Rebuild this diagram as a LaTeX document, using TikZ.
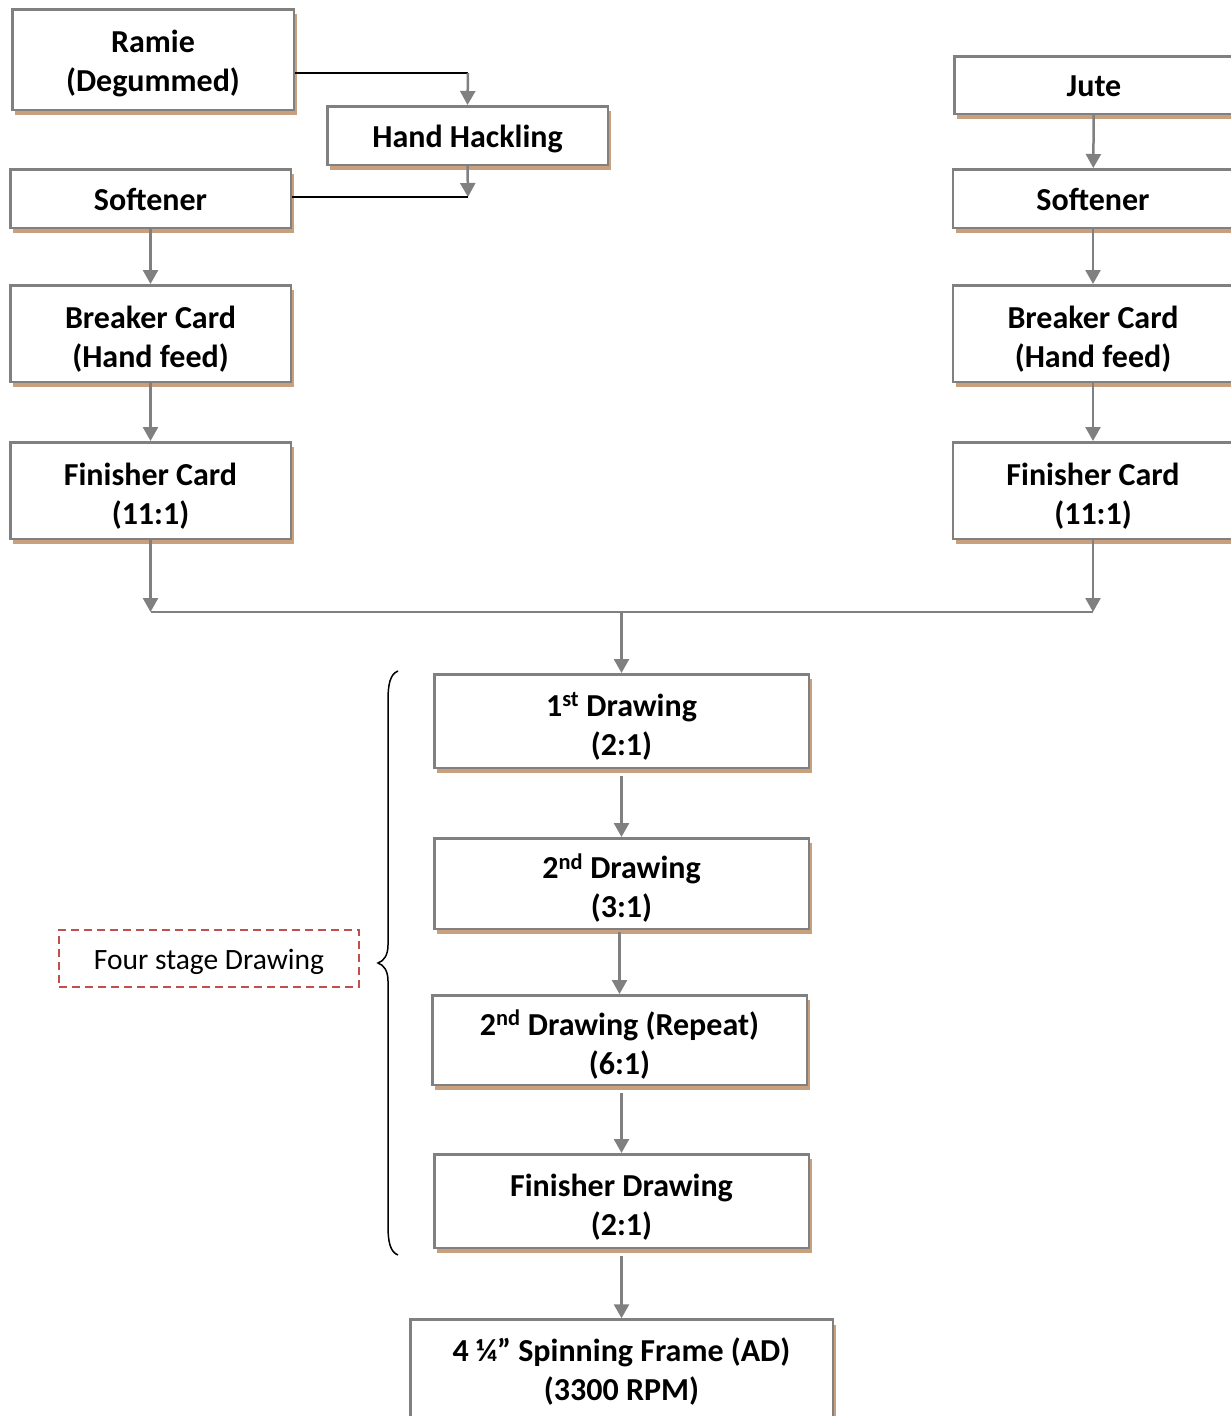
\documentclass[tikz,border=0pt]{standalone}
\usepackage{fontspec}
\setmainfont{Carlito}
\usetikzlibrary{arrows.meta}
\definecolor{boxgray}{RGB}{128,128,128}
\definecolor{shtan}{RGB}{201,160,126}
\definecolor{dashred}{RGB}{192,80,77}
\newcommand\topstrut{\rule{0pt}{38pt}}
\begin{document}
\begin{tikzpicture}[x=1pt,y=-1pt,
  box/.style={draw=boxgray, line width=2.5pt, fill=white, align=center,
    font=\fontsize{32}{39}\selectfont\bfseries, inner sep=0pt,
    execute at begin node={\rule{0pt}{32pt}},
    execute at end node={\rule[-9pt]{0pt}{9pt}},
    preaction={draw=none, fill=shtan, transform canvas={shift={(3pt,-5pt)}}}},
  lbox/.style={box, minimum width=280.5pt},
  dbox/.style={box, minimum width=374.5pt},
  flow/.style={draw=boxgray, line width=2.5pt, -{Triangle[width=15pt,length=14pt]}},
  link/.style={draw=black, line width=2pt},
  note/.style={draw=dashred, line width=2pt, dash pattern=on 8pt off 5pt,
    minimum width=300pt, minimum height=57pt, inner sep=0pt,
    text height=26pt, text depth=4pt,
    font=\fontsize{29.5}{35}\selectfont},
]
\clip (0,0) rectangle (1231,1416);
\fill[white] (0,0) rectangle (1231,1416);

% left column
\node[lbox, minimum width=281.5pt, minimum height=100.5pt] (ramie) at (153,59.5) {\rule{0pt}{34pt}Ramie\\(Degummed)};
\node[lbox, minimum height=58.5pt] (hack) at (467.5,135.5) {Hand Hackling};
\node[lbox, minimum height=58.5pt] (softL) at (150.5,198.5) {Softener};
\node[lbox, minimum height=96.5pt] (breakL) at (150.5,333.5) {\topstrut Breaker Card\\(Hand feed)};
\node[lbox, minimum height=96.5pt] (finL) at (150.5,490.5) {\topstrut Finisher Card\\(11:1)};

% right column
\node[lbox, minimum width=279.5pt, minimum height=57.5pt] (jute) at (1094,85) {Jute};
\node[lbox, minimum height=58.5pt] (softR) at (1093,198.5) {Softener};
\node[lbox, minimum height=96.5pt] (breakR) at (1093,333.5) {\topstrut Breaker Card\\(Hand feed)};
\node[lbox, minimum height=96.5pt] (finR) at (1093,490.5) {\topstrut Finisher Card\\(11:1)};

% drawing stages
\node[dbox, minimum height=93.5pt] (d1) at (621.5,721) {\topstrut 1\textsuperscript{st} Drawing\\(2:1)};
\node[dbox, minimum height=90.5pt] (d2) at (621.5,883.5) {\topstrut 2\textsuperscript{nd} Drawing\\(3:1)};
\node[dbox, minimum height=89.5pt] (d3) at (619.5,1040) {\topstrut 2\textsuperscript{nd} Drawing (Repeat)\\(6:1)};
\node[dbox, minimum height=93.5pt] (d4) at (621.5,1201) {\topstrut Finisher Drawing\\(2:1)};
\node[box, minimum width=422.5pt, minimum height=110pt, anchor=north,
  execute at end node={\rule[-26pt]{0pt}{26pt}}] (spin) at (621.5,1318.25) {\topstrut 4 ¼” Spinning Frame (AD)\\(3300 RPM)};

\node[note] (four) at (209,958.5) {Four stage Drawing};

% coordinates
\coordinate (t1) at (468,73);
\coordinate (t2) at (468,197);
\coordinate (mL) at (150.5,612);
\coordinate (mR) at (1093,612);
\coordinate (mC) at (621.5,612);

% connectors
\draw[link] (ramie.east |- t1) -- (t1);
\draw[flow] (t1) -- (hack.north);
\draw[flow] (hack.south) -- (t2);
\draw[link] (softL.east |- t2) -- (t2);
\draw[flow] (softL) -- (breakL);
\draw[flow] (breakL) -- (finL);
\draw[flow] (finL.south) -- (mL);

\draw[flow] (jute) -- (softR);
\draw[flow] (softR) -- (breakR);
\draw[flow] (breakR) -- (finR);
\draw[flow] (finR.south) -- (mR);

\draw[draw=boxgray, line width=2.5pt] (mL) -- (mR);
\draw[flow] (mC) -- (d1.north);
\draw[flow, shorten <=7pt] (d1) -- (d2);
\draw[flow, shorten <=2pt] (d3.north |- d2.south) -- (d3.north);
\draw[flow, shorten <=7pt] (d4.north |- d3.south) -- (d4.north);
\draw[flow, shorten <=7pt] (d4) -- (spin);

% brace
\draw[black, line width=1.5pt] (398,671) .. controls (390,674) and (388,685) .. (388,700)
  -- (388,945) .. controls (388,955) and (384,961) .. (378,963)
  .. controls (384,965) and (388,971) .. (388,981)
  -- (388,1226) .. controls (388,1241) and (390,1252) .. (398,1255);
\end{tikzpicture}
\end{document}
